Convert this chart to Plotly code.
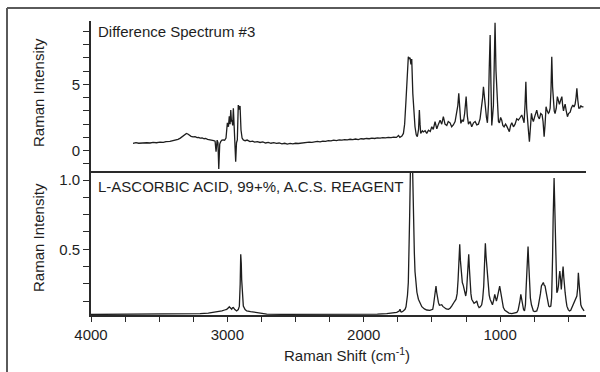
import plotly.graph_objects as go

# ---------------- data ----------------
top_x = [3692,3670,3650,3630,3610,3590,3567,3545,3520,3494,3470,3450,3421,3400,3380,3362,3345,3330,3315,3300,3290,3278,3266,3252,3237,3222,3210,3200,3185,3170,3160,3145,3130,3115,3100,3090,3083,3075,3069,3063,3056,3049,3040,3030,3020,3010,3000,2992,2986,2980,2975,2970,2966,2961,2956,2949,2939,2933,2927,2920,2912,2907,2900,2892,2883,2870,2855,2834,2815,2800,2780,2760,2740,2720,2700,2680,2660,2640,2620,2600,2580,2560,2540,2520,2500,2480,2467,2440,2420,2400,2380,2360,2340,2320,2300,2280,2260,2240,2220,2200,2180,2160,2140,2120,2100,2080,2060,2040,2020,2000,1980,1960,1940,1920,1900,1880,1860,1840,1820,1800,1780,1760,1745,1735,1720,1709,1700,1690,1680,1673,1666,1660,1654,1648,1640,1632,1624,1615,1607,1598,1592,1587,1582,1570,1563,1550,1538,1525,1512,1501,1490,1477,1464,1452,1440,1428,1416,1404,1391,1380,1367,1355,1343,1330,1318,1310,1303,1296,1288,1278,1269,1260,1249,1240,1232,1220,1208,1195,1183,1171,1159,1147,1135,1128,1122,1115,1108,1100,1093,1085,1080,1073,1067,1061,1055,1049,1043,1037,1030,1020,1012,1005,996,988,980,971,960,951,940,932,923,914,902,890,878,866,853,841,832,824,817,811,805,800,792,785,778,770,763,756,745,738,731,722,712,702,692,685,677,670,663,655,646,640,633,627,621,615,609,603,597,588,580,572,565,556,547,541,535,529,523,515,506,498,490,486,478,467,458,450,443,437,430,423,415,408,400,389]
top_y = [0.55,0.60,0.56,0.58,0.55,0.60,0.58,0.62,0.60,0.64,0.62,0.68,0.70,0.74,0.80,0.86,0.95,1.05,1.15,1.30,1.26,1.15,1.08,1.04,1.06,0.98,1.00,0.95,0.96,0.90,0.92,0.85,0.82,0.84,0.76,0.72,-0.07,0.80,0.60,-1.38,0.50,0.68,0.80,0.81,0.78,0.95,2.10,1.80,2.60,2.00,3.06,2.20,2.30,1.90,3.20,1.56,-0.83,0.60,0.81,3.44,3.10,3.37,1.56,0.95,0.81,0.75,0.80,0.68,0.72,0.64,0.68,0.62,0.66,0.58,0.62,0.56,0.60,0.55,0.58,0.52,0.56,0.50,0.55,0.52,0.56,0.54,0.56,0.60,0.58,0.64,0.62,0.66,0.70,0.66,0.72,0.70,0.76,0.74,0.80,0.76,0.82,0.80,0.84,0.82,0.86,0.84,0.88,0.84,0.90,0.88,0.92,0.90,0.94,0.92,0.96,0.94,0.98,0.96,1.00,0.98,1.02,1.00,1.15,1.00,1.10,1.30,2.00,3.80,6.00,7.08,6.95,7.00,6.50,6.90,4.30,2.60,1.80,1.20,1.05,1.60,3.06,2.00,1.30,1.50,1.41,1.50,1.30,1.55,1.45,1.80,1.60,2.18,1.65,2.00,2.30,2.00,2.56,2.00,1.90,2.20,2.10,1.80,1.94,2.20,2.82,3.40,4.32,3.00,2.06,2.30,2.20,2.80,4.07,2.60,2.00,2.20,1.80,2.10,2.20,1.95,2.00,2.40,3.31,4.00,4.82,4.00,3.40,2.50,2.10,3.50,6.00,8.71,5.00,1.90,2.60,3.40,6.50,9.64,6.00,3.06,2.20,2.10,2.50,2.30,1.90,1.80,2.00,1.85,1.60,1.43,1.90,2.10,1.80,2.00,2.40,2.31,2.50,2.69,2.40,2.10,3.50,5.20,3.20,2.30,1.50,0.68,1.80,2.82,2.40,2.20,2.60,2.90,3.06,2.60,2.40,2.80,2.70,2.20,1.05,2.00,3.31,3.00,2.82,2.90,3.20,4.50,7.08,4.80,3.40,3.00,2.80,3.20,4.07,3.60,3.50,3.80,4.07,3.40,3.00,3.30,3.50,3.00,2.56,2.80,2.90,2.90,3.20,3.44,3.30,3.50,4.00,4.70,3.80,3.20,3.20,3.40,3.30,3.31]

bot_x = [4000,3900,3800,3700,3600,3500,3400,3300,3200,3140,3078,3040,3020,3005,2990,2986,2975,2968,2962,2956,2945,2932,2920,2912,2906,2902,2898,2895,2890,2883,2870,2858,2830,2809,2760,2711,2600,2467,2300,2100,1978,1900,1831,1780,1758,1740,1734,1728,1722,1710,1697,1690,1685,1679,1673,1668,1663,1658,1652,1646,1641,1636,1629,1624,1618,1610,1599,1588,1574,1555,1538,1515,1494,1488,1482,1476,1470,1465,1460,1452,1445,1436,1428,1420,1411,1395,1379,1367,1355,1343,1333,1323,1315,1308,1302,1296,1291,1286,1281,1277,1270,1264,1258,1252,1246,1240,1235,1230,1225,1220,1214,1208,1200,1191,1180,1171,1162,1154,1145,1135,1128,1120,1114,1108,1103,1098,1093,1088,1080,1073,1064,1056,1048,1039,1033,1027,1021,1015,1009,1003,997,991,983,976,965,951,935,914,895,877,868,860,854,848,842,836,828,821,814,810,806,800,795,790,785,778,770,763,756,745,731,720,712,704,697,690,683,676,670,664,658,650,643,636,628,622,619,615,611,607,604,600,597,594,589,584,578,572,567,562,556,551,546,542,538,533,528,523,516,510,500,491,482,474,466,457,447,437,431,426,421,415,408,400,392,384]
bot_y = [0.030,0.031,0.029,0.031,0.030,0.032,0.031,0.033,0.036,0.040,0.048,0.055,0.062,0.067,0.080,0.086,0.075,0.068,0.078,0.080,0.065,0.055,0.065,0.090,0.25,0.464,0.40,0.28,0.15,0.090,0.065,0.055,0.050,0.047,0.040,0.033,0.031,0.031,0.030,0.031,0.031,0.033,0.036,0.040,0.045,0.055,0.067,0.050,0.048,0.055,0.067,0.085,0.115,0.17,0.26,0.45,0.75,1.05,1.35,1.40,1.05,0.72,0.48,0.34,0.26,0.19,0.14,0.11,0.086,0.070,0.062,0.060,0.067,0.10,0.163,0.215,0.235,0.19,0.15,0.115,0.096,0.098,0.10,0.088,0.079,0.070,0.067,0.075,0.090,0.115,0.125,0.14,0.18,0.28,0.42,0.536,0.42,0.33,0.29,0.26,0.24,0.21,0.18,0.163,0.20,0.28,0.38,0.464,0.36,0.26,0.18,0.14,0.12,0.11,0.118,0.127,0.095,0.079,0.085,0.10,0.14,0.235,0.40,0.543,0.45,0.38,0.30,0.235,0.17,0.14,0.115,0.10,0.13,0.175,0.15,0.127,0.15,0.187,0.21,0.235,0.20,0.163,0.11,0.079,0.06,0.048,0.040,0.036,0.038,0.045,0.06,0.09,0.13,0.175,0.13,0.09,0.065,0.055,0.10,0.20,0.30,0.45,0.52,0.40,0.26,0.15,0.10,0.07,0.055,0.05,0.055,0.09,0.127,0.18,0.235,0.25,0.26,0.24,0.235,0.20,0.163,0.12,0.09,0.085,0.09,0.15,0.235,0.45,0.72,0.90,1.014,0.85,0.70,0.596,0.35,0.187,0.20,0.235,0.30,0.343,0.28,0.21,0.28,0.33,0.375,0.30,0.19,0.187,0.13,0.09,0.065,0.055,0.06,0.079,0.10,0.127,0.14,0.163,0.22,0.33,0.26,0.163,0.10,0.079,0.060,0.055]

x_tickvals = [4000,3000,2000,1000]
x_ticktext = ["4000","3000","2000","1000"]
x_minorvals = [3750,3500,3250,2750,2500,2250,1750,1500,1250,750,500]
top_tickvals = [0,5]
top_ticktext = ["0","5"]
top_minorvals = [-1,1,2,3,4,6,7,8,9]
bot_tickvals = [0.5,1.0]
bot_ticktext = ["0.5","1.0"]
bot_minorvals = [0.125,0.25,0.375,0.625,0.75,0.875]

top_label = "Difference Spectrum #3"
bot_label = "L-ASCORBIC ACID, 99+%, A.C.S. REAGENT"
y_title = "Raman Intensity"
x_title = "Raman Shift (cm<sup>-1</sup>)"

# ---------------- figure ----------------
W, H = 600, 372
FONT = "Liberation Sans, Arial, sans-serif"
INK = "#1e1e1e"
AX = "#2a2a2a"

def px_x(p):
    return p / W

def px_y(p):
    return 1 - p / H

fig = go.Figure()
fig.add_trace(go.Scatter(x=top_x, y=top_y, mode="lines", xaxis="x2", yaxis="y2",
                         line=dict(color=INK, width=1.3), showlegend=False, hoverinfo="skip"))
fig.add_trace(go.Scatter(x=bot_x, y=bot_y, mode="lines", xaxis="x", yaxis="y",
                         line=dict(color=INK, width=1.3), showlegend=False, hoverinfo="skip"))

xdom = [px_x(91), px_x(586)]
axis_common = dict(showgrid=False, zeroline=False, showline=True, linecolor=AX, linewidth=1.6,
                   automargin=False,
                   tickfont=dict(family=FONT, size=15, color=INK), tickcolor=AX, tickwidth=1.4)

def minor(vals, ln):
    return dict(tickmode="array", tickvals=vals, ticks="outside", ticklen=ln,
                tickcolor=AX, tickwidth=1.4, showgrid=False)

fig.update_layout(
    width=W, height=H,
    margin=dict(l=0, r=0, t=0, b=0, autoexpand=False),
    paper_bgcolor="white", plot_bgcolor="white",
    font=dict(family=FONT, size=15, color=INK),
    xaxis=dict(domain=xdom, range=[4000, 370], anchor="y",
               tickmode="array", tickvals=x_tickvals, ticktext=x_ticktext,
               ticks="outside", ticklen=5, minor=minor(x_minorvals, 5), **axis_common),
    xaxis2=dict(domain=xdom, range=[4000, 370], anchor="y2", matches="x",
                showticklabels=False, ticks="", **axis_common),
    yaxis=dict(domain=[px_y(315), px_y(171)], range=[0.026, 1.065], anchor="x",
               tickmode="array", tickvals=bot_tickvals, ticktext=bot_ticktext,
               ticks="outside", ticklen=6, minor=minor(bot_minorvals, 6), **axis_common),
    yaxis2=dict(domain=[px_y(171), px_y(21)], range=[-1.53, 9.77], anchor="x2",
                tickmode="array", tickvals=top_tickvals, ticktext=top_ticktext,
                ticks="outside", ticklen=6, minor=minor(top_minorvals, 6), **axis_common),
)

ann_font = dict(family=FONT, size=15, color=INK)
fig.add_annotation(x=px_x(96), y=px_y(31), xref="paper", yref="paper", text=top_label,
                   showarrow=False, xanchor="left", yanchor="middle", font=ann_font)
fig.add_annotation(x=px_x(96), y=px_y(186), xref="paper", yref="paper", text=bot_label,
                   showarrow=False, xanchor="left", yanchor="middle", font=ann_font)
fig.add_annotation(x=px_x(38), y=px_y(93), xref="paper", yref="paper", text=y_title,
                   showarrow=False, textangle=-90, xanchor="center", yanchor="middle", font=ann_font)
fig.add_annotation(x=px_x(38), y=px_y(238), xref="paper", yref="paper", text=y_title,
                   showarrow=False, textangle=-90, xanchor="center", yanchor="middle", font=ann_font)
fig.add_annotation(x=px_x(347), y=px_y(354), xref="paper", yref="paper", text=x_title,
                   showarrow=False, xanchor="center", yanchor="middle", font=ann_font)

# outer frame (top and left edges)
fig.add_shape(type="line", xref="paper", yref="paper", x0=px_x(7), x1=1.0, y0=px_y(8), y1=px_y(8),
              line=dict(color="#5a5a5a", width=2))
fig.add_shape(type="line", xref="paper", yref="paper", x0=px_x(7), x1=px_x(7), y0=px_y(8), y1=0,
              line=dict(color="#5a5a5a", width=2))

fig.write_html("out.html")
